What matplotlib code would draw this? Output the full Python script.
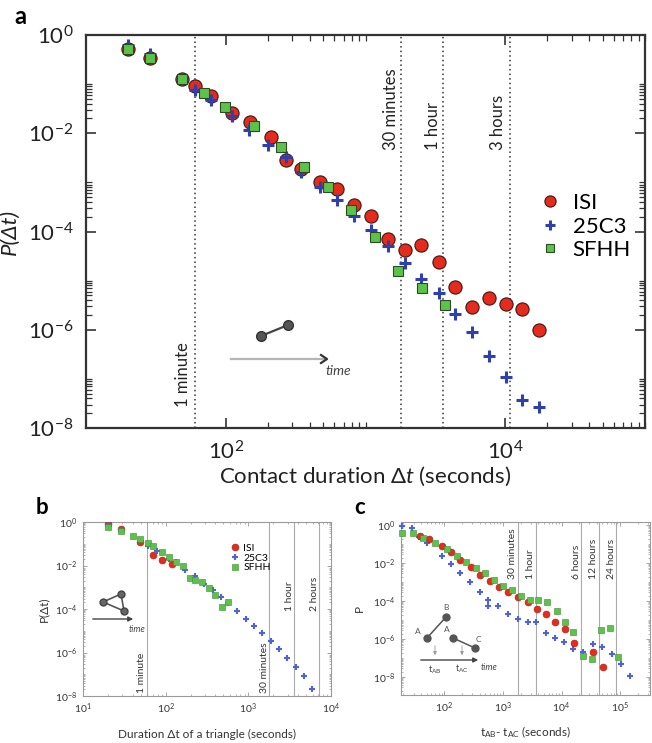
import matplotlib
matplotlib.use("Agg")
import matplotlib.pyplot as plt
from matplotlib.ticker import NullFormatter
from matplotlib.transforms import blended_transform_factory as blend

plt.rcParams["font.family"] = ["Lato", "DejaVu Sans"]
plt.rcParams["mathtext.fontset"] = "custom"
plt.rcParams["mathtext.rm"] = "Lato"
plt.rcParams["mathtext.it"] = "Lato:italic"
plt.rcParams["mathtext.bf"] = "Lato:bold"

# ---- panel a: contact durations ----
isi_a_t = [20, 28.7, 48.7, 60, 78, 111, 150, 210, 270, 348, 470, 630, 826, 1090,
           1460, 1920, 2500, 3330, 4380, 5760, 7690, 10200, 13200, 17400]
isi_a_p = [0.52, 0.34, 0.13, 0.091, 0.057, 0.026, 0.0172, 0.0085, 0.0029, 0.0019,
           1.0e-3, 7.2e-4, 3.5e-4, 2.1e-4, 6.9e-5, 4.2e-5, 5.3e-5, 2.4e-5, 7.5e-6,
           2.9e-6, 4.5e-6, 3.3e-6, 2.6e-6, 9.8e-7]
c3_a_t = [20, 28.7, 48.7, 60, 78, 111, 147, 200, 270, 348, 470, 630, 826, 1090,
          1460, 1920, 2500, 3330, 4380, 5760, 7690, 10200, 13200, 17400]
c3_a_p = [0.63, 0.42, 0.13, 0.076, 0.048, 0.022, 0.0117, 0.0058, 0.0033, 0.00166,
          8.1e-4, 4.4e-4, 2.1e-4, 1.07e-4, 5.0e-5, 2.3e-5, 1.1e-5, 5.6e-6, 2.1e-6,
          9.1e-7, 2.9e-7, 1.1e-7, 3.7e-8, 2.7e-8]
sfhh_a_t = [20, 28.7, 48.7, 70, 98, 158, 250, 366, 535, 790, 1160, 1720, 2540, 3730]
sfhh_a_p = [0.52, 0.34, 0.13, 0.067, 0.035, 0.014, 0.0053, 0.0021, 8.1e-4, 2.8e-4,
            7.8e-5, 1.6e-5, 7.2e-6, 3.2e-6]

# ---- panel b: triangle durations ----
isi_b_t = [20, 28.6, 49.5, 71, 91, 120]
isi_b_p = [0.83, 0.49, 0.115, 0.029, 0.017, 0.012]
c3_b_t = [20, 28.6, 61.7, 79, 110, 132, 170, 224, 288, 372, 468, 575, 736, 933,
          1175, 1480, 1860, 2340, 2950, 3760, 4730, 5970]
c3_b_p = [0.71, 0.42, 0.076, 0.045, 0.020, 0.014, 0.0063, 0.0032, 0.0014, 7.6e-4,
          3.5e-4, 1.8e-4, 7.9e-5, 3.5e-5, 1.66e-5, 8.1e-6, 3.4e-6, 1.4e-6, 5.4e-7,
          2.2e-7, 8.3e-8, 2.2e-8]
sfhh_b_t = [20, 28.6, 40, 49.5, 61.7, 71, 91, 110, 132, 162, 195, 224, 275, 339,
            398, 479, 562]
sfhh_b_p = [0.59, 0.37, 0.23, 0.166, 0.107, 0.081, 0.040, 0.0245, 0.0151, 0.010,
            0.0026, 0.0022, 0.00166, 9.1e-4, 4.5e-4, 1.2e-4, 2.0e-4]

# ---- panel c: t_AB - t_AC ----
isi_c_t = [38.5, 55, 90, 129, 186, 282, 407, 603, 851, 1230, 1820, 2630, 3800,
           5430, 7760, 11500, 16600, 33900, 50100]
isi_c_p = [0.275, 0.19, 0.085, 0.038, 0.0155, 0.0065, 0.0025, 0.00112, 5.4e-4,
           3.3e-4, 1.66e-4, 8.9e-5, 4.1e-5, 2.1e-5, 7.8e-6, 3.5e-6, 6.3e-7, 2.3e-7,
           3.7e-8]
c3_c_t = [18.6, 27.5, 36.3, 51, 90, 129, 186, 275, 407, 562, 562, 832, 1200, 1780,
          2630, 3670, 5370, 7760, 11200, 15800, 23400, 33900, 49000, 72400, 102000,
          148000]
c3_c_p = [0.89, 0.72, 0.25, 0.117, 0.025, 0.0095, 0.0031, 1.0e-3, 3.3e-4, 1.2e-4,
          5.9e-5, 5.9e-5, 2.2e-5, 1.26e-5, 8.7e-6, 8.7e-6, 2.3e-6, 1.15e-6, 7.8e-7,
          3.0e-7, 2.3e-7, 5.6e-7, 3.9e-7, 1.66e-7, 5.1e-8, 1.2e-8]
sfhh_c_t = [18.6, 29.5, 43.6, 69, 110, 162, 234, 347, 495, 708, 1020, 1410, 2040,
            2880, 3980, 5750, 8320, 11500, 15800, 22900, 33100, 46800, 66100, 93300]
sfhh_c_p = [0.40, 0.40, 0.21, 0.117, 0.056, 0.025, 0.0112, 0.0056, 0.0031, 0.00126,
            6.6e-4, 4.1e-4, 1.9e-4, 1.2e-4, 1.12e-4, 9.1e-5, 3.3e-5, 8.1e-6, 2.6e-6,
            1.4e-7, 9.8e-8, 3.1e-6, 4.1e-6, 1.26e-7]

lines_a = [(60, "1 minute"), (1800, "30 minutes"), (3600, "1 hour"), (10800, "3 hours")]
lines_b = [(60, "1 minute"), (1800, "30 minutes"), (3600, "1 hour"), (7200, "2 hours")]
lines_c = [(1800, "30 minutes"), (3600, "1 hour"), (21600, "6 hours"),
           (43200, "12 hours"), (86400, "24 hours")]

RED, BLUE, GREEN = "#e62a1c", "#2e3fae", "#5cc34a"
BLUE_LT = "#4f63d6"
W, H = 652, 743


def place(l, t, r, b):
    return [l / W, 1 - b / H, (r - l) / W, (b - t) / H]


fig = plt.figure(figsize=(W / 100, H / 100), dpi=100)

# ================= panel a =================
ax = fig.add_axes(place(86, 35, 645, 428))
ax.set_xscale("log")
ax.set_yscale("log")

for x, lab in lines_a:
    ax.axvline(x, color="#333333", ls=(0, (1, 2)), lw=1.1, zorder=1)

ax.plot(isi_a_t, isi_a_p, "o", ms=9.5, mfc=RED, mec="#3a1a14", mew=0.8,
        ls="none", label="ISI", zorder=3)
ax.plot(c3_a_t, c3_a_p, "+", ms=9, mec=BLUE, mew=2.2, ls="none",
        label="25C3", zorder=4)
ax.plot(sfhh_a_t, sfhh_a_p, "s", ms=7.5, mfc=GREEN, mec="#2d4a25", mew=0.8,
        ls="none", label="SFHH", zorder=5)

ax.set_xticks([1e2, 1e4])
ax.set_xticks([k * 10.0 ** m for m in (2, 4) for k in range(2, 11)], minor=True)
ax.set_yticks([1e0, 1e-2, 1e-4, 1e-6, 1e-8])
ax.set_yticks([k * 10.0 ** m for m in (-2, -4, -6, -8) for k in range(2, 10)] +
              [1e-1, 1e-3, 1e-5, 1e-7], minor=True)
ax.xaxis.set_minor_formatter(NullFormatter())
ax.yaxis.set_minor_formatter(NullFormatter())
ax.set_xlim(10, 1e5)
ax.set_ylim(1e-8, 1)
ax.tick_params(which="both", direction="in", top=True, right=True,
               colors="#333333", labelcolor="#222222", labelsize=16)
ax.tick_params(which="major", length=7, width=1.2, pad=9)
ax.tick_params(which="minor", length=4, width=0.9)
for s in ax.spines.values():
    s.set_linewidth(1.6)
    s.set_color("#333333")

ax.set_xlabel("Contact duration Δ$t$ (seconds)", fontsize=16, color="#222222",
              labelpad=1)
ax.set_ylabel("P(Δt)", fontsize=16, style="italic", color="#222222", labelpad=6)

tr = blend(ax.transData, ax.transAxes)
for (x, lab), yf, dx in zip(lines_a, [0.053, 0.707, 0.707, 0.707],
                            [-12, -10, -10, -12]):
    ax.annotate(lab, xy=(x, yf), xycoords=tr, xytext=(dx, 0),
                textcoords="offset pixels", rotation=90, ha="center",
                va="bottom", fontsize=12, color="#222222")

ax.legend(loc="upper left", bbox_to_anchor=(0.795, 0.62), frameon=False,
          fontsize=16, markerscale=0.85, handletextpad=0.5, labelspacing=0.15,
          handlelength=1.0, borderaxespad=0)

# ================= panels b and c =================


def small_axes(rect, xlim, ylim, xt):
    a = fig.add_axes(rect)
    a.set_xscale("log")
    a.set_yscale("log")
    a.set_xticks(xt)
    a.set_yticks([1e0, 1e-2, 1e-4, 1e-6, 1e-8])
    a.set_xticks([k * 10.0 ** m for m in range(0, 6) for k in range(2, 10)], minor=True)
    a.set_yticks([k * 10.0 ** m for m in range(-10, 1) for k in range(1, 10)
                  if not (k == 1 and m % 2 == 0)], minor=True)
    a.xaxis.set_minor_formatter(NullFormatter())
    a.yaxis.set_minor_formatter(NullFormatter())
    a.set_xlim(*xlim)
    a.set_ylim(*ylim)
    a.tick_params(which="both", direction="in", top=True, right=True,
                  colors="#999999", labelcolor="#333333", labelsize=7.5)
    a.tick_params(which="major", length=3, width=0.6, pad=4)
    a.tick_params(which="minor", length=1.6, width=0.5)
    for s in a.spines.values():
        s.set_linewidth(0.8)
        s.set_color("#9a9a9a")
    return a


axb = small_axes(place(83, 522, 331, 696), (10, 1e4), (1e-8, 1), [1e1, 1e2, 1e3, 1e4])
for x, lab in lines_b:
    axb.axvline(x, color="#aaaaaa", lw=0.8, zorder=1)
axb.plot(isi_b_t, isi_b_p, "o", ms=5, mfc=RED, mec="#b01e14", mew=0.4, ls="none",
         label="ISI", zorder=3)
axb.plot(c3_b_t, c3_b_p, "+", ms=5, mec=BLUE_LT, mew=1.5, ls="none",
         label="25C3", zorder=4)
axb.plot(sfhh_b_t, sfhh_b_p, "s", ms=4.8, mfc=GREEN, mec="#3f8a33", mew=0.4,
         ls="none", label="SFHH", zorder=5)
axb.set_xlabel("Duration Δt of a triangle (seconds)", fontsize=8.5, color="#333333",
               labelpad=9)
axb.set_ylabel("P(Δt)", fontsize=8.5, color="#333333", labelpad=4)
axb.legend(loc="upper left", bbox_to_anchor=(0.575, 0.90), frameon=False,
           fontsize=7.5, handletextpad=0.3, labelspacing=0.05, handlelength=1.0,
           borderaxespad=0)
trb = blend(axb.transData, axb.transAxes)
for (x, lab), yf, dx in zip(lines_b, [0.02, 0.02, 0.49, 0.49], [-6, -5, -5, -5]):
    axb.annotate(lab, xy=(x, yf), xycoords=trb, xytext=(dx, 0),
                 textcoords="offset pixels", rotation=90, ha="center",
                 va="bottom", fontsize=7.5, color="#333333")

axc = small_axes(place(401, 522, 650, 695), (18.2, 3.24e5), (1.2e-9, 1.5),
                 [1e2, 1e3, 1e4, 1e5])
for x, lab in lines_c:
    axc.axvline(x, color="#aaaaaa", lw=0.8, zorder=1)
axc.plot(isi_c_t, isi_c_p, "o", ms=5, mfc=RED, mec="#b01e14", mew=0.4, ls="none",
         zorder=4, clip_on=False)
axc.plot(c3_c_t, c3_c_p, "+", ms=5, mec=BLUE_LT, mew=1.5, ls="none", zorder=3,
         clip_on=False)
axc.plot(sfhh_c_t, sfhh_c_p, "s", ms=4.8, mfc=GREEN, mec="#3f8a33", mew=0.4,
         ls="none", zorder=5, clip_on=False)
axc.set_xlabel(r"t$_{\rm AB}$- t$_{\rm AC}$ (seconds)", fontsize=8.5,
               color="#333333", labelpad=7)
axc.set_ylabel("P", fontsize=8.5, color="#333333", labelpad=6)
trc = blend(axc.transData, axc.transAxes)
for x, lab in lines_c:
    axc.annotate(lab, xy=(x, 0.67), xycoords=trc, xytext=(-5, 0),
                 textcoords="offset pixels", rotation=90, ha="center",
                 va="bottom", fontsize=7.5, color="#333333")

# ================= panel letters and schematics =================
ov = fig.add_axes([0, 0, 1, 1], zorder=10)
ov.set_xlim(0, W)
ov.set_ylim(H, 0)
ov.axis("off")
ov.patch.set_alpha(0)

ov.text(20, 17, "a", fontsize=17, fontweight="bold", ha="center", va="center")
ov.text(42, 508, "b", fontsize=16, fontweight="bold", ha="center", va="center")
ov.text(360, 508, "c", fontsize=16, fontweight="bold", ha="center", va="center")

# a: one contact between two nodes
ov.plot([261, 288], [336, 325], color="#444444", lw=1.6)
ov.plot([261, 288], [336, 325], "o", ms=7, color="#555555", mec="#333333")
ov.plot([231, 326], [359, 359], color="#b5b5b5", lw=1.6)
ov.plot([321, 327, 321], [355, 359, 363], color="#333333", lw=1.6)
ov.text(326, 371, "time", fontsize=10, style="italic", color="#444444",
        va="center")

# b: triangle
tri_x = [103, 121, 124, 103]
tri_y = [602, 594, 611, 602]
ov.plot(tri_x, tri_y, color="#555555", lw=1.2)
ov.plot(tri_x[:3], tri_y[:3], "o", ms=5, color="#666666", mec="#444444")
ov.annotate("", xy=(136, 619), xytext=(90, 619),
            arrowprops=dict(arrowstyle="-|>", color="#444444", lw=1.0,
                            mutation_scale=7))
ov.text(145, 629, "time", fontsize=6.5, style="italic", color="#444444",
        ha="right", va="center")

# c: two successive contacts A-B and A-C
ov.plot([427, 446], [638, 617], color="#555555", lw=1.1)
ov.plot([427, 446], [638, 617], "o", ms=5, color="#555555")
ov.plot([453, 475], [638, 648], color="#555555", lw=1.1)
ov.plot([453, 475], [638, 648], "o", ms=5, color="#555555")
for tx, ty, s in [(418, 631, "A"), (446, 607, "B"), (447, 630, "A"), (478, 639, "C")]:
    ov.text(tx, ty, s, fontsize=6, color="#555555", ha="center", va="center")
for vx in (435, 462):
    ov.annotate("", xy=(vx, 658), xytext=(vx, 643),
                arrowprops=dict(arrowstyle="-|>", color="#999999", lw=0.6,
                                mutation_scale=5))
ov.annotate("", xy=(481, 660), xytext=(418, 660),
            arrowprops=dict(arrowstyle="-|>", color="#444444", lw=1.0,
                            mutation_scale=7))
ov.text(481, 667, "time", fontsize=6.5, style="italic", color="#444444",
        va="center")
ov.text(435, 670, r"t$_{\rm AB}$", fontsize=6.5, color="#444444",
        ha="center", va="center")
ov.text(462, 669, r"t$_{\rm AC}$", fontsize=6.5, color="#444444",
        ha="center", va="center")

fig.savefig("out.png", dpi=100)
